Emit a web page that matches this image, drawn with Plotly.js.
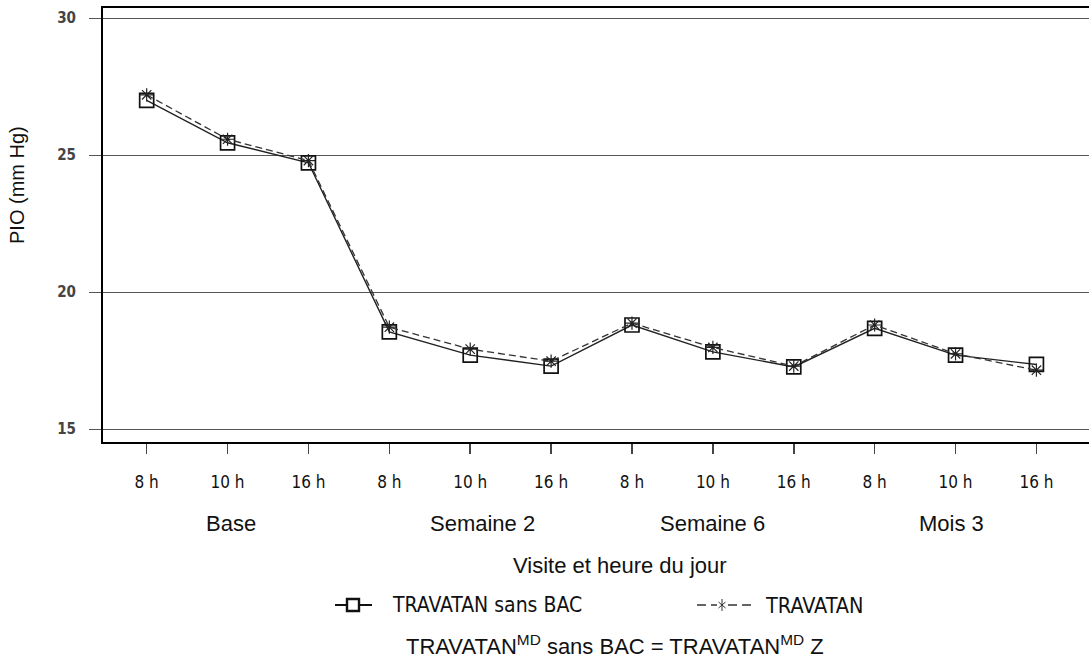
<!DOCTYPE html>
<html>
<head>
<meta charset="utf-8">
<script src="https://cdn.plot.ly/plotly-3.0.1.min.js"></script>
<style>html,body{margin:0;padding:0;background:#fff;}#chart{width:1089px;height:660px;}</style>
</head>
<body>
<div id="chart"></div>
<script>
// ---- data ----
const hourLabels = ["8 h","10 h","16 h","8 h","10 h","16 h","8 h","10 h","16 h","8 h","10 h","16 h"];
const visitLabels = ["Base","Semaine 2","Semaine 6","Mois 3"];
const sansBAC = [27.0, 25.45, 24.72, 18.55, 17.7, 17.3, 18.8, 17.82, 17.27, 18.68, 17.7, 17.36];
const travatan = [27.2, 25.58, 24.8, 18.72, 17.92, 17.48, 18.87, 17.98, 17.3, 18.8, 17.75, 17.15];
const seriesNames = ["TRAVATAN sans BAC","TRAVATAN"];
const yTicks = [15, 20, 25, 30];

const xIdx = hourLabels.map((_, i) => i);

// ---- layout helpers (pixel -> paper) ----
const L = 103, T = 8, W = 986, H = 434;
const px = x => (x - L) / W;
const py = y => (T + H - y) / H;
const visitShift = [3, 12, 0, -4];

const NARROW = "DejaVu Sans Condensed, Roboto, Liberation Sans, sans-serif";
const SANS = "Liberation Sans, Arial, sans-serif";

const traces = [
  {x: xIdx, y: sansBAC, name: seriesNames[0], mode: "lines+markers", showlegend:false,
   line: {color: "#222", width: 1.4},
   marker: {symbol: "square-open", size: 14, color: "#111", line: {width: 1.7, color: "#111"}}},
  {x: xIdx, y: travatan, name: seriesNames[1], mode: "lines+markers", showlegend:false,
   line: {color: "#333", width: 1.3, dash: "7px,4px"},
   marker: {symbol: "asterisk-open", size: 11, color: "#222", line: {width: 1.2, color: "#222"}}}
];

const annotations = [];
visitLabels.forEach((v, i) => {
  annotations.push({x: 3*i + 1, xref: "x", xshift: visitShift[i], y: py(523), yref: "paper", text: v, showarrow: false,
    font: {family: SANS, size: 22, color: "#111"}, xanchor: "center", yanchor: "middle"});
});
annotations.push({x: px(620), xref: "paper", y: py(565), yref: "paper", text: "Visite et heure du jour",
  showarrow: false, font: {family: SANS, size: 22, color: "#111"}, xanchor: "center", yanchor: "middle"});
annotations.push({x: px(17), xref: "paper", y: py(185), yref: "paper", text: "PIO (mm Hg)", textangle: -90,
  showarrow: false, font: {family: SANS, size: 20, color: "#111"}, xanchor: "center", yanchor: "middle"});
annotations.push({x: px(390), xref: "paper", y: py(605), yref: "paper", text: seriesNames[0],
  showarrow: false, font: {family: NARROW, size: 21, color: "#111"}, xanchor: "left", yanchor: "middle"});
annotations.push({x: px(763), xref: "paper", y: py(605), yref: "paper", text: seriesNames[1],
  showarrow: false, font: {family: NARROW, size: 21.5, color: "#111"}, xanchor: "left", yanchor: "middle"});
annotations.push({x: px(615), xref: "paper", y: py(645), yref: "paper",
  text: "TRAVATAN<sup>MD</sup> sans BAC = TRAVATAN<sup>MD</sup> Z",
  showarrow: false, font: {family: SANS, size: 22, color: "#111"}, xanchor: "center", yanchor: "middle"});

const shapes = [
  // legend item 1
  {type: "line", xref: "paper", yref: "paper", x0: px(335), x1: px(372), y0: py(605), y1: py(605), line: {color: "#111", width: 2}},
  {type: "rect", xref: "paper", yref: "paper", x0: px(347), x1: px(359), y0: py(599), y1: py(611), fillcolor: "#fff", line: {color: "#111", width: 2.4}},
  // legend item 2 (dashed)
  {type: "line", xref: "paper", yref: "paper", x0: px(697), x1: px(717), y0: py(605), y1: py(605), line: {color: "#333", width: 1.5, dash: "9px,5px"}},
  {type: "line", xref: "paper", yref: "paper", x0: px(728), x1: px(752), y0: py(605), y1: py(605), line: {color: "#333", width: 1.5, dash: "9px,5px"}},
  {type: "line", xref: "paper", yref: "paper", x0: px(722), x1: px(722), y0: py(599), y1: py(611), line: {color: "#333", width: 1}},
  {type: "line", xref: "paper", yref: "paper", x0: px(718.5), x1: px(725.5), y0: py(602), y1: py(608), line: {color: "#333", width: 1}},
  {type: "line", xref: "paper", yref: "paper", x0: px(718.5), x1: px(725.5), y0: py(608), y1: py(602), line: {color: "#333", width: 1}}
];

const layout = {
  width: 1089, height: 660,
  margin: {l: L, r: 0, t: T, b: 660 - T - H, pad: 0},
  paper_bgcolor: "#fff", plot_bgcolor: "#fff",
  showlegend: false,
  xaxis: {range: [-0.54, 11.65], tickmode: "array", tickvals: xIdx, ticktext: hourLabels,
    showgrid: false, zeroline: false, showline: true, linecolor: "#000", linewidth: 2, mirror: true,
    ticks: "outside", ticklen: 10, tickcolor: "#444", tickwidth: 1.5,
    ticklabelstandoff: 14,
    tickfont: {family: NARROW, size: 17, color: "#111"}},
  yaxis: {range: [14.53, 30.37], tickmode: "array", tickvals: yTicks, ticktext: yTicks.map(String),
    showgrid: true, gridcolor: "#555", gridwidth: 1, zeroline: false,
    showline: true, linecolor: "#000", linewidth: 2,
    ticks: "outside", ticklen: 12, tickcolor: "#555", tickwidth: 1,
    ticklabelstandoff: 10,
    tickfont: {family: NARROW, size: 15, color: "#444", weight: "bold"}},
  annotations: annotations,
  shapes: shapes
};

Plotly.newPlot("chart", traces, layout, {displayModeBar: false, staticPlot: true});
</script>
</body>
</html>
